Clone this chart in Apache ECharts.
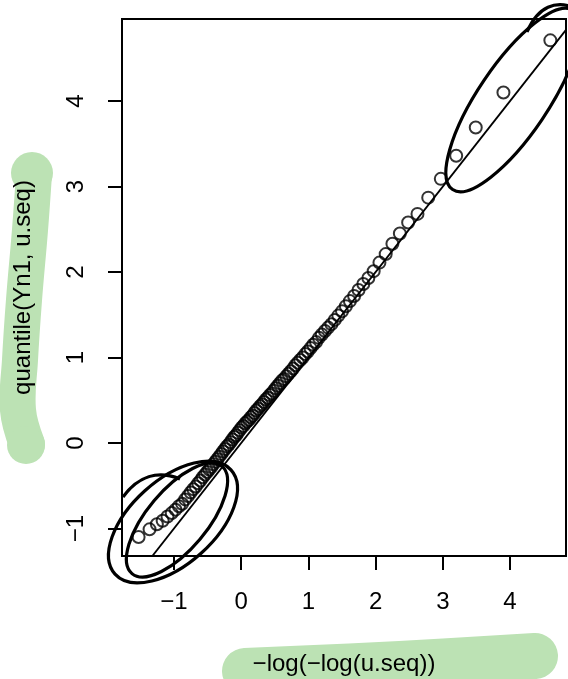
<!DOCTYPE html>
<html>
<head>
<meta charset="utf-8">
<script src="https://cdn.jsdelivr.net/npm/echarts@6/dist/echarts.min.js"></script>
<style>
  html, body { margin: 0; padding: 0; background: #fff; }
  #chart { width: 568px; height: 679px; }
</style>
</head>
<body>
<div id="chart"></div>
<script>
// x: -log(-log(u.seq)) for u.seq = 0.01 ... 0.99
const gumbelQ = [
  -1.527, -1.364, -1.255, -1.169, -1.097, -1.034, -0.978, -0.927, -0.879, -0.834,
  -0.792, -0.752, -0.713, -0.676, -0.640, -0.606, -0.572, -0.539, -0.507, -0.476,
  -0.445, -0.415, -0.385, -0.356, -0.327, -0.298, -0.270, -0.241, -0.213, -0.186,
  -0.158, -0.131, -0.103, -0.076, -0.049, -0.022, 0.006, 0.033, 0.060, 0.087,
  0.115, 0.142, 0.170, 0.197, 0.225, 0.253, 0.281, 0.309, 0.338, 0.367,
  0.396, 0.425, 0.454, 0.484, 0.514, 0.545, 0.576, 0.607, 0.639, 0.672,
  0.705, 0.738, 0.772, 0.807, 0.842, 0.878, 0.915, 0.953, 0.991, 1.031,
  1.071, 1.113, 1.156, 1.200, 1.246, 1.293, 1.342, 1.392, 1.445, 1.500,
  1.557, 1.617, 1.680, 1.746, 1.817, 1.892, 1.971, 2.057, 2.150, 2.250,
  2.361, 2.484, 2.623, 2.783, 2.970, 3.199, 3.490, 3.902, 4.600
];
// y: quantile(Yn1, u.seq)
const sampleQ = [
  -1.10, -1.01, -0.95, -0.91, -0.86, -0.82, -0.78, -0.74, -0.71, -0.66,
  -0.62, -0.58, -0.54, -0.51, -0.47, -0.44, -0.40, -0.37, -0.34, -0.31,
  -0.28, -0.25, -0.22, -0.19, -0.16, -0.13, -0.10, -0.07, -0.04, -0.02,
  0.01, 0.04, 0.07, 0.09, 0.12, 0.15, 0.18, 0.20, 0.23, 0.25,
  0.27, 0.30, 0.32, 0.35, 0.38, 0.40, 0.43, 0.45, 0.48, 0.51,
  0.53, 0.56, 0.58, 0.61, 0.64, 0.67, 0.70, 0.73, 0.75, 0.78,
  0.81, 0.84, 0.87, 0.91, 0.94, 0.97, 1.00, 1.04, 1.07, 1.11,
  1.15, 1.18, 1.23, 1.27, 1.31, 1.35, 1.39, 1.44, 1.49, 1.54,
  1.60, 1.66, 1.72, 1.79, 1.86, 1.93, 2.01, 2.11, 2.21, 2.33,
  2.45, 2.58, 2.68, 2.87, 3.09, 3.36, 3.69, 4.10, 4.71
];
const xTicks = [-1, 0, 1, 2, 3, 4];
const yTicks = [-1, 0, 1, 2, 3, 4];
const xLimits = [-1.774, 4.833];
const yLimits = [-1.322, 4.96];
// abline(0, 1)
const ablineA = 0;
const ablineB = 1;

const xTitle = '\u2212log(\u2212log(u.seq))';
const yTitle = 'quantile(Yn1, u.seq)';

const font = 'Liberation Sans';
const minus = v => String(v).replace('-', '\u2212');

const points = gumbelQ.map((x, i) => [x, sampleQ[i]]);
const refLine = xLimits.map(x => [x, ablineA + ablineB * x]);

const ink = { fill: null, stroke: '#000', lineWidth: 3.2 };
const marker = 'rgb(188, 226, 180)';
const deg = Math.PI / 180;

var chart = echarts.init(document.getElementById('chart'));
const option = {
  backgroundColor: '#fff',
  animation: false,
  grid: {
    left: 122, top: 19, width: 444, height: 537,
    show: true, borderColor: '#000', borderWidth: 2,
    backgroundColor: 'transparent',
    outerBoundsMode: 'none'
  },
  xAxis: {
    type: 'value',
    min: xLimits[0], max: xLimits[1],
    splitLine: { show: false },
    axisLine: { show: true, onZero: false, lineStyle: { color: '#000', width: 2 } },
    axisTick: { show: true, length: 14, customValues: xTicks, lineStyle: { color: '#000', width: 2 } },
    axisLabel: {
      customValues: xTicks, formatter: minus, margin: 34,
      color: '#000', fontFamily: font, fontSize: 24
    },
    name: xTitle, nameLocation: 'middle', nameGap: 96,
    nameTextStyle: { color: '#000', fontFamily: font, fontSize: 24 }
  },
  yAxis: {
    type: 'value',
    min: yLimits[0], max: yLimits[1],
    splitLine: { show: false },
    axisLine: { show: true, onZero: false, lineStyle: { color: '#000', width: 2 } },
    axisTick: { show: true, length: 14, customValues: yTicks, lineStyle: { color: '#000', width: 2 } },
    axisLabel: {
      customValues: yTicks, formatter: minus, margin: 34, rotate: 90,
      color: '#000', fontFamily: font, fontSize: 24
    },
    name: yTitle, nameLocation: 'middle', nameGap: 87, nameRotate: 90,
    nameTextStyle: { color: '#000', fontFamily: font, fontSize: 24 }
  },
  series: [
    {
      type: 'scatter',
      data: points,
      symbol: 'circle',
      symbolSize: 12,
      itemStyle: { color: 'rgba(0,0,0,0)', borderColor: '#000', borderWidth: 2 },
      silent: true
    },
    {
      type: 'line',
      data: refLine,
      symbol: 'none',
      lineStyle: { color: '#000', width: 1.8 },
      clip: true,
      silent: true
    }
  ],
  graphic: [
    // green highlighter behind the axis titles
    { type: 'polyline', z: -10, shape: { points: [[34, 174], [30, 230], [24, 300], [20, 360], [18, 410], [27, 444]], smooth: 0.4 },
      style: { fill: null, stroke: marker, lineWidth: 36, lineCap: 'round', lineJoin: 'round' } },
    { type: 'circle', z: -10, shape: { cx: 32, cy: 173, r: 21 }, style: { fill: marker } },
    { type: 'circle', z: -10, shape: { cx: 26, cy: 445, r: 19 }, style: { fill: marker } },
    { type: 'polyline', z: -10, shape: { points: [[245, 671], [400, 664], [535, 656]], smooth: 0.4 },
      style: { fill: null, stroke: marker, lineWidth: 46, lineCap: 'round', lineJoin: 'round' } },

    // hand-drawn loops, upper tail
    { type: 'ellipse', z: 10, x: 513, y: 100, rotation: 56 * deg, shape: { cx: 0, cy: 0, rx: 108, ry: 35 }, style: ink },
    { type: 'bezierCurve', z: 10, shape: { x1: 527, y1: 32, cpx1: 538, cpy1: 6, cpx2: 556, cpy2: 0, x2: 575, y2: 8 }, style: ink },

    // hand-drawn loops, lower tail
    { type: 'ellipse', z: 10, x: 173, y: 522, rotation: 42 * deg, shape: { cx: 0, cy: 0, rx: 78, ry: 42 }, style: ink },
    { type: 'ellipse', z: 10, x: 177, y: 520, rotation: 50 * deg, shape: { cx: 0, cy: 0, rx: 70, ry: 30 }, style: ink },
    { type: 'bezierCurve', z: 10, shape: { x1: 123, y1: 497, cpx1: 138, cpy1: 476, cpx2: 158, cpy2: 470, x2: 180, y2: 479 }, style: ink }
  ]
};
chart.setOption(option);
</script>
</body>
</html>
